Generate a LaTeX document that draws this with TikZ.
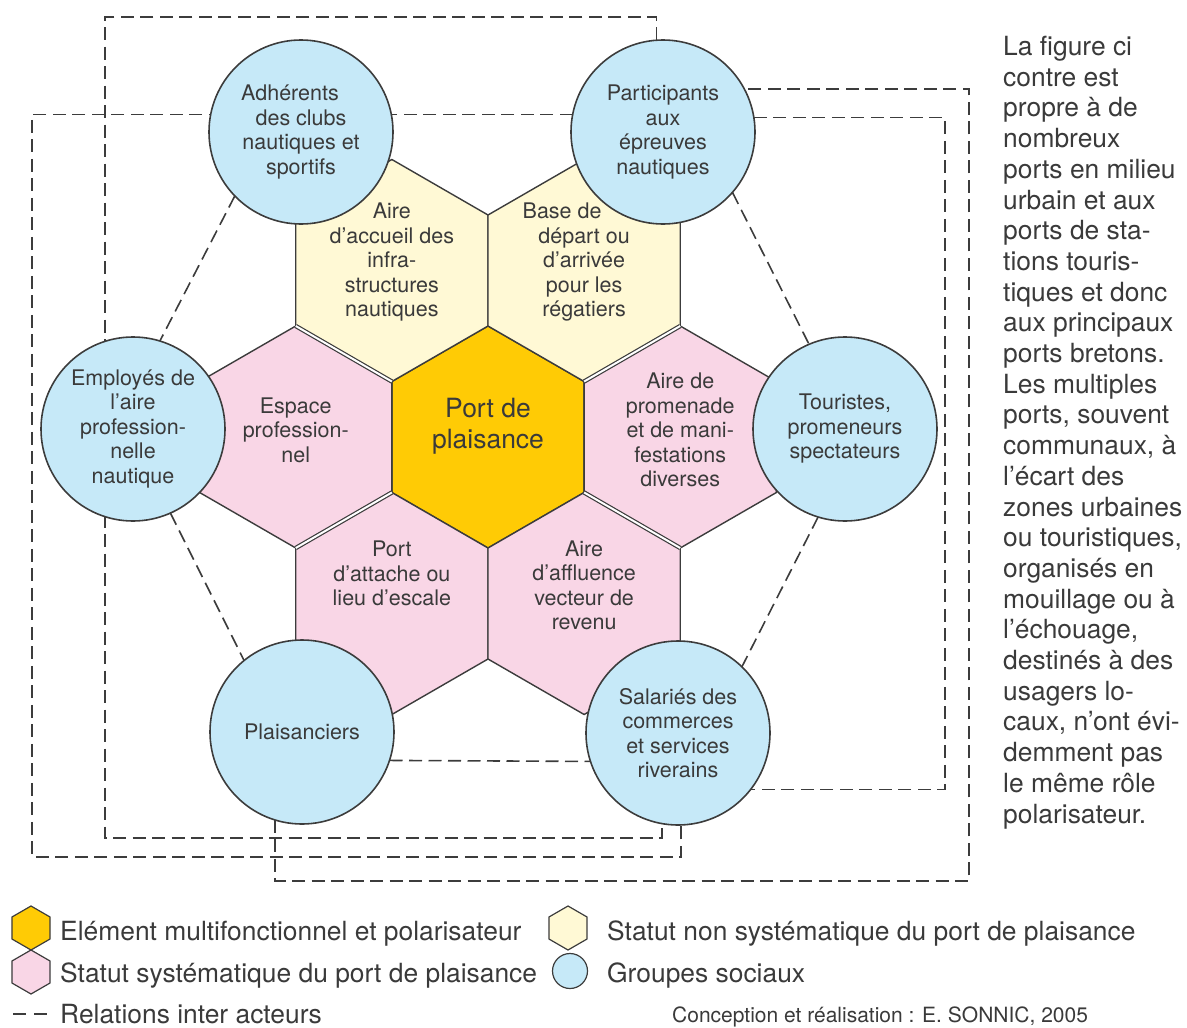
\documentclass[tikz,border=0pt]{standalone}
\usepackage{fontspec}
\setmainfont{TeX Gyre Heros}
\usetikzlibrary{shapes.geometric,calc,backgrounds}

\definecolor{trait}{HTML}{3C3C3C}
\definecolor{texte}{HTML}{3A3A3A}
\definecolor{bleu}{HTML}{C6E9F8}
\definecolor{creme}{HTML}{FFF9D5}
\definecolor{rose}{HTML}{F9D6E6}
\definecolor{orpl}{HTML}{FFCB05}

\tikzset{
  hexa/.style={regular polygon, regular polygon sides=6, shape border rotate=30,
    minimum size=222pt, inner sep=0pt, outer sep=0pt, draw=trait, line width=1.4pt},
  groupe/.style={circle, minimum size=184pt, inner sep=0pt, outer sep=0pt,
    draw=trait, line width=1.6pt, fill=bleu, align=center, text=texte,
    font=\fontsize{21.5}{24.5}\selectfont},
  etiq/.style={align=center, text=texte, inner sep=0pt,
    font=\fontsize{21.5}{24.5}\selectfont},
  relation/.style={draw=trait, line width=1.6pt, dash pattern=on 13pt off 6.5pt},
  jointure/.style={draw=trait, line width=1.2pt, double=white, double distance=2pt},
  legende/.style={anchor=base west, inner sep=0pt, text=texte,
    font=\fontsize{26.4}{31}\selectfont},
}

\begin{document}
\begin{tikzpicture}[x=1pt,y=-1pt]
    \useasboundingbox (0,0) rectangle (1187,1028);

    % alveoles
    \node[hexa, fill=orpl] (hC) at (488,437) {};
    \node[hexa, fill=creme] (hTL) at ($(hC)+(-96.13,-166.5)$) {};
    \node[hexa, fill=creme] (hTR) at ($(hC)+(96.13,-166.5)$) {};
    \node[hexa, fill=rose] (hL) at ($(hC)+(-192.26,0)$) {};
    \node[hexa, fill=rose] (hR) at ($(hC)+(192.26,0)$) {};
    \node[hexa, fill=rose] (hBL) at ($(hC)+(-96.13,166.5)$) {};
    \node[hexa, fill=rose] (hBR) at ($(hC)+(96.13,166.5)$) {};
    \draw[jointure] (hL.90) -- (hL.30);
    \draw[jointure] (hL.-30) -- (hL.-90);
    \draw[jointure] (hR.90) -- (hR.150);
    \draw[jointure] (hR.-150) -- (hR.-90);

    \node[etiq, font=\fontsize{26.5}{31}\selectfont] (tC) at ($(hC)+(0,-11)$) {Port de\\plaisance};
    \node[etiq] (tTL) at ($(hTL)+(0,-8)$) {Aire\\d'accueil des\\infra-\\structures\\nautiques};
    \node[etiq] (tTR) at ($(hTR)+(0,-8)$) {Base de\hspace*{44pt}\\départ ou\\d'arrivée\\pour les\\régatiers};
    \node[etiq] (tL) at ($(hL)+(0,-7)$) {Espace\\profession-\\nel};
    \node[etiq] (tR) at ($(hR)+(0,-7)$) {Aire de\\promenade\\et de mani-\\festations\\diverses};
    \node[etiq] (tBL) at ($(hBL)+(0,-30)$) {Port\\d'attache ou\\lieu d'escale};
    \node[etiq] (tBR) at ($(hBR)+(0,-18)$) {Aire\\d'affluence\\vecteur de\\revenu};

    % groupes sociaux
    \node[groupe] (cAdh) at (301,132) {Adhérents\hspace*{22pt}\\des clubs\\nautiques et\\sportifs};
    \node[groupe] (cPart) at (663,132) {Participants\\aux\\épreuves\\nautiques};
    \node[groupe] (cEmpl) at (133,429) {Employés de\\l'aire\\profession-\\nelle\\nautique};
    \node[groupe] (cTour) at (845,429) {Touristes,\\promeneurs\\spectateurs};
    \node[groupe] (cPlais) at (302,732) {Plaisanciers};
    \node[groupe] (cSal) at (678,733) {Salariés des\\commerces\\et services\\riverains};

    % relations inter acteurs
    \begin{scope}[on background layer]
    \draw[relation] (cPart.94) |- (105,17) |- (cSal.-100 |- 0,838) -- (cSal.-100);
    \draw[relation] (cPart.169) -- (cPart.169 -| 32,0) |- (cSal.-88 |- 0,857) -- (cSal.-88);
    \draw[relation] (cPlais.-107) |- (969,881) |- (cPart.28);
    \draw[relation] (cPart.9) -| (cSal.-38 -| 945,0) -- (cSal.-38);
    \draw[relation] (cAdh.224) -- (cEmpl.73);
    \draw[relation] (cPart.-41) -- (cTour.113);
    \draw[relation] (cEmpl.-66) -- (cPlais.129);
    \draw[relation] (cTour.-107) -- (cSal.46);
    \draw[relation] (cPlais.-18) -- (cSal.-162);
    \end{scope}

    \node[anchor=north west, align=left, inner sep=0pt, text=texte,
      font=\fontsize{26.4}{30.7}\selectfont] (notice) at (1003,36) {La figure ci\\contre est\\propre à de\\nombreux\\ports en milieu\\urbain et aux\\ports de sta-\\tions touris-\\tiques et donc\\aux principaux\\ports bretons.\\Les multiples\\ports, souvent\\communaux, à\\l'écart des\\zones urbaines\\ou touristiques,\\organisés en\\mouillage ou à\\l'échouage,\\destinés à des\\usagers lo-\\caux, n'ont évi-\\demment pas\\le même rôle\\polarisateur.};

    % legende
    \node[hexa, fill=orpl, minimum size=44pt, line width=1.2pt] (lgC) at (31,928) {};
    \node[legende] (lgCt) at (60,940) {Elément multifonctionnel et polarisateur};
    \node[hexa, fill=creme, minimum size=44pt, line width=1.2pt] (lgY) at (568,928) {};
    \node[legende] (lgYt) at (607,940) {Statut non systématique du port de plaisance};
    \node[hexa, fill=rose, minimum size=44pt, line width=1.2pt] (lgP) at (31,972) {};
    \node[legende] (lgPt) at (60,982) {Statut systématique du port de plaisance};
    \node[circle, draw=trait, fill=bleu, line width=1.2pt, minimum size=35pt, inner sep=0pt] (lgB) at (570,971) {};
    \node[legende] (lgBt) at (607,982) {Groupes sociaux};
    \coordinate (lgR1) at (13,1014);
    \coordinate (lgR2) at (48,1014);
    \draw[relation, dash pattern=on 13pt off 8pt] (lgR1) -- (lgR2);
    \node[legende] (lgRt) at (60,1023) {Relations inter acteurs};
    \node[anchor=base west, inner sep=0pt, text=texte, font=\fontsize{21}{24}\selectfont] (credit) at (672,1022) {Conception et réalisation : E. SONNIC, 2005};
\end{tikzpicture}
\end{document}
